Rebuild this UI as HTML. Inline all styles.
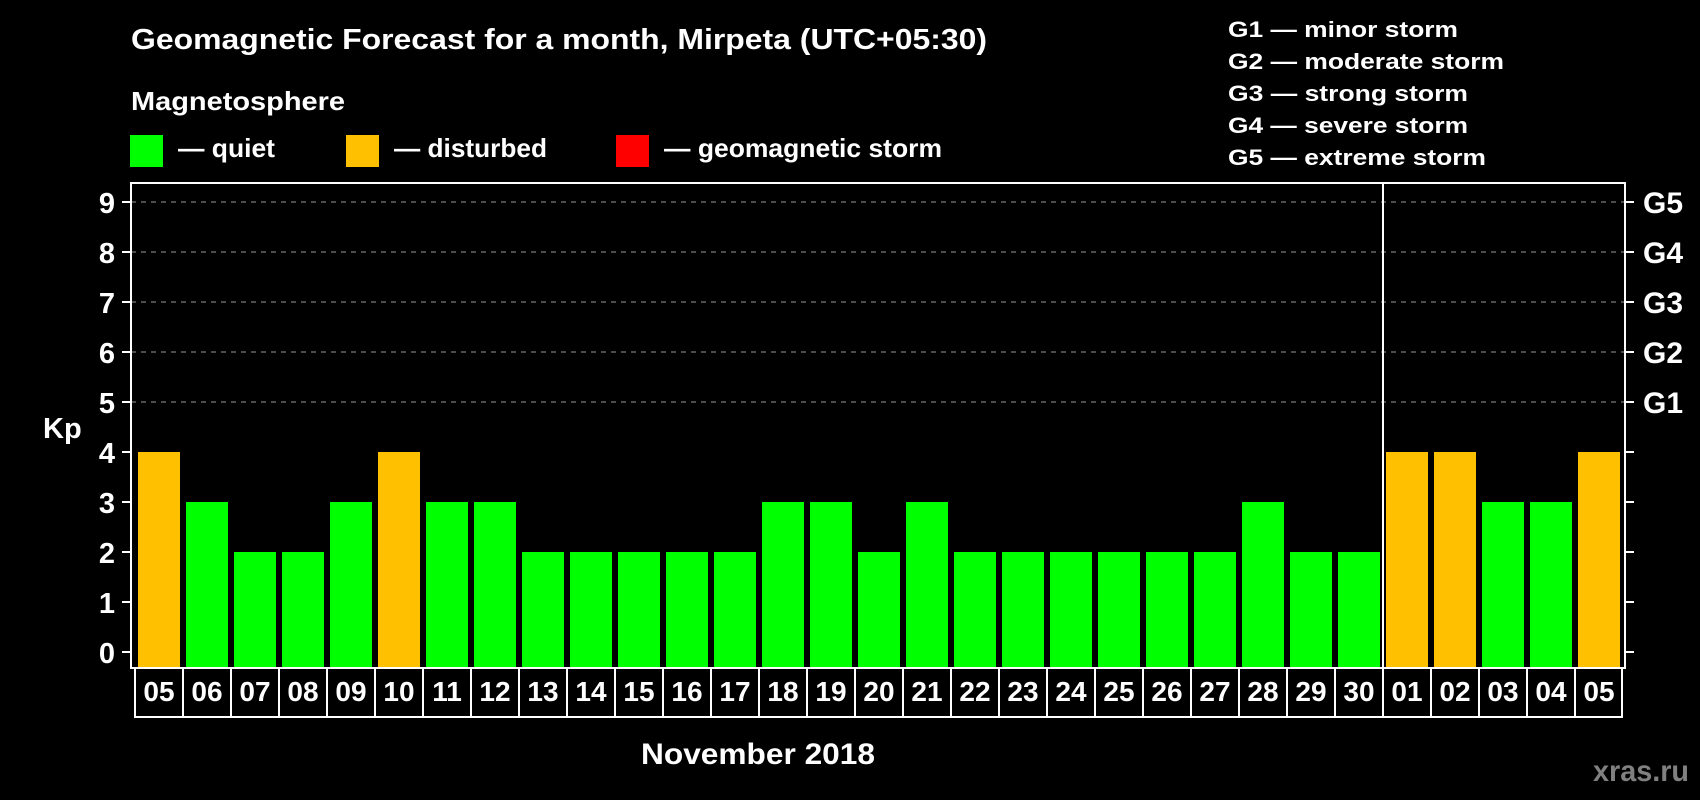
<!DOCTYPE html>
<html><head><meta charset="utf-8"><style>html,body{margin:0;padding:0;background:#000}svg{display:block}text{font-family:"Liberation Sans",Arial,sans-serif;font-weight:bold;fill:#fff}</style></head>
<body>
<svg id="chart" width="1700" height="800" viewBox="0 0 1700 800" xmlns="http://www.w3.org/2000/svg">
<rect width="1700" height="800" fill="#000"/>
<text x="131" y="49" font-size="29" textLength="856" lengthAdjust="spacingAndGlyphs">Geomagnetic Forecast for a month, Mirpeta (UTC+05:30)</text>
<text x="131" y="110" font-size="26" textLength="214" lengthAdjust="spacingAndGlyphs">Magnetosphere</text>
<rect x="130" y="135" width="33" height="32" fill="#00ff00"/>
<text x="178" y="157" font-size="26" textLength="97" lengthAdjust="spacingAndGlyphs">— quiet</text>
<rect x="346" y="135" width="33" height="32" fill="#ffc000"/>
<text x="394" y="157" font-size="26" textLength="153" lengthAdjust="spacingAndGlyphs">— disturbed</text>
<rect x="616" y="135" width="33" height="32" fill="#ff0000"/>
<text x="664" y="157" font-size="26" textLength="278" lengthAdjust="spacingAndGlyphs">— geomagnetic storm</text>
<g font-size="22">
<text x="1228" y="37" textLength="230" lengthAdjust="spacingAndGlyphs">G1 — minor storm</text>
<text x="1228" y="69" textLength="276" lengthAdjust="spacingAndGlyphs">G2 — moderate storm</text>
<text x="1228" y="101" textLength="240" lengthAdjust="spacingAndGlyphs">G3 — strong storm</text>
<text x="1228" y="133" textLength="240" lengthAdjust="spacingAndGlyphs">G4 — severe storm</text>
<text x="1228" y="165" textLength="258" lengthAdjust="spacingAndGlyphs">G5 — extreme storm</text>
</g>
<g id="grid"></g>
<g id="bars"></g>
<g id="axes"></g>
<text x="43" y="438" font-size="29">Kp</text>
<text x="641" y="764" font-size="30" textLength="234" lengthAdjust="spacingAndGlyphs">November 2018</text>
<text x="1593" y="781" font-size="30" style="fill:#808080" textLength="96" lengthAdjust="spacingAndGlyphs">xras.ru</text>
</svg>
<script>
const days = ["05","06","07","08","09","10","11","12","13","14","15","16","17","18","19","20","21","22","23","24","25","26","27","28","29","30","01","02","03","04","05"];
const kp = [4,3,2,2,3,4,3,3,2,2,2,2,2,3,3,2,3,2,2,2,2,2,2,3,2,2,4,4,3,3,4];
const yTicks = [0,1,2,3,4,5,6,7,8,9];
const gLabels = ["G1","G2","G3","G4","G5"];
const gLevels = [5,6,7,8,9];
const monthBreak = 26;

const NS="http://www.w3.org/2000/svg";
const L=131,R=1625,T=183,B=668,X0=138,STEP=48,BW=42;
const y=v=>652-50*v;
const x=i=>X0+STEP*i;
function mk(tag,attrs,parent){const e=document.createElementNS(NS,tag);for(const k in attrs)e.setAttribute(k,attrs[k]);parent.appendChild(e);return e;}
const grid=document.getElementById('grid'),bars=document.getElementById('bars'),axes=document.getElementById('axes');
gLevels.forEach((v,i)=>{
  const ln=mk('line',{x1:L,x2:R,y1:y(v),y2:y(v),stroke:'#999','stroke-width':1,'stroke-dasharray':'5,5'},grid);
  
  
  const t=mk('text',{x:1643,y:y(v)+11,'font-size':30},axes);t.textContent=gLabels[i];
  
  
});
kp.forEach((v,i)=>{
  const c=v>=5?'#ff0000':(v>=4?'#ffc000':'#00ff00');
  const r=mk('rect',{x:x(i),y:y(v),width:BW,height:B-y(v),fill:c},bars);
  
  
});
yTicks.forEach(v=>{
  const tk=mk('line',{x1:122,x2:L,y1:y(v),y2:y(v),stroke:'#fff','stroke-width':2},axes);
  
  
  const tr=mk('line',{x1:R,x2:1634,y1:y(v),y2:y(v),stroke:'#fff','stroke-width':2},axes);
  
  
  const t=mk('text',{x:115,y:y(v)+11,'font-size':29,'text-anchor':'end'},axes);t.textContent=v;
  
  
});
const frame=mk('rect',{x:L,y:T,width:R-L,height:B-T,fill:'none',stroke:'#fff','stroke-width':2},axes);


const sep=mk('line',{x1:x(monthBreak)-3,x2:x(monthBreak)-3,y1:T,y2:B,stroke:'#fff','stroke-width':2},axes);


const bx0=135,bx1=bx0+STEP*days.length-1;
const box=mk('rect',{x:bx0,y:B,width:bx1-bx0,height:717-B,fill:'none',stroke:'#fff','stroke-width':2},axes);


days.forEach((d,i)=>{
  if(i>0){const dv=mk('line',{x1:bx0+STEP*i,x2:bx0+STEP*i,y1:B,y2:717,stroke:'#fff','stroke-width':2},axes);
    
    }
  const t=mk('text',{x:x(i)+BW/2,y:701,'font-size':28,'text-anchor':'middle'},axes);t.textContent=d;
  
  
});
</script>
</body></html>
